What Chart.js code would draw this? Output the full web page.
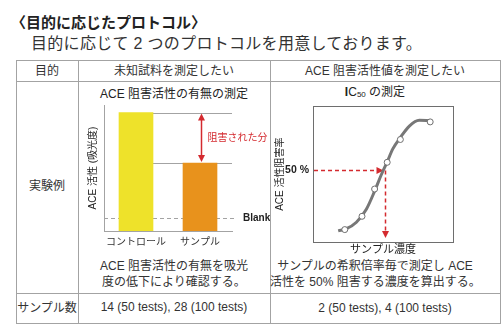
<!DOCTYPE html>
<html>
<head>
<meta charset="utf-8">
<script src="https://cdn.jsdelivr.net/npm/chart.js"></script>
<style>
  body { margin:0; width:501px; height:336px; background:#fff; position:relative; overflow:hidden;
    font-family: "Liberation Sans", "Noto Sans CJK JP", sans-serif; color:#333; }
  .t { position:absolute; white-space:nowrap; }
  .c { text-align:center; }
  .hl { position:absolute; height:1px; background:#a3a3a3; }
  .vl { position:absolute; width:1px; background:#a3a3a3; }
  canvas { position:absolute; }
  sub { font-size:8px; vertical-align:-1px; }
</style>
</head>
<body>
<div class="t" style="left:11px;top:13px;font-size:15px;line-height:20px;font-weight:bold;color:#222">〈目的に応じたプロトコル〉</div>
<div class="t" style="left:31px;top:34px;font-size:16px;line-height:20px;letter-spacing:0.3px;color:#333">目的に応じて 2 つのプロトコルを用意しております。</div>

<!-- table lines -->
<div class="hl" style="left:16px;top:60px;width:485px"></div>
<div class="hl" style="left:16px;top:81px;width:485px"></div>
<div class="hl" style="left:16px;top:293px;width:485px"></div>
<div class="hl" style="left:16px;top:323px;width:485px"></div>
<div class="vl" style="left:16px;top:60px;height:264px"></div>
<div class="vl" style="left:78px;top:60px;height:264px"></div>
<div class="vl" style="left:270px;top:60px;height:264px"></div>
<div class="vl" style="left:500px;top:60px;height:264px"></div>

<!-- table texts -->
<div class="t c" style="left:16px;width:62px;top:62px;font-size:12px;line-height:18px">目的</div>
<div class="t c" style="left:78px;width:192px;top:62px;font-size:12px;line-height:18px">未知試料を測定したい</div>
<div class="t c" style="left:270px;width:230px;top:62px;font-size:12px;line-height:18px">ACE 阻害活性値を測定したい</div>
<div class="t c" style="left:16px;width:62px;top:177px;font-size:12px;line-height:18px">実験例</div>
<div class="t c" style="left:78px;width:192px;top:86px;font-size:12px;line-height:16px;color:#222">ACE 阻害活性の有無の測定</div>
<div class="t c" style="left:270px;width:210px;top:84px;font-size:12px;line-height:16px;color:#222"><b>I</b>C<sub>50</sub> の測定</div>
<div class="t c" style="left:78px;width:192px;top:258px;font-size:12px;line-height:16px">ACE 阻害活性の有無を吸光<br>度の低下により確認する。</div>
<div class="t c" style="left:270px;width:210px;top:258px;font-size:12px;line-height:16px">サンプルの希釈倍率毎で測定し ACE<br>活性を 50% 阻害する濃度を算出する。</div>
<div class="t c" style="left:16px;width:62px;top:299px;font-size:12px;line-height:18px">サンプル数</div>
<div class="t c" style="left:78px;width:192px;top:298px;font-size:12px;line-height:18px">14 (50 tests), 28 (100 tests)</div>
<div class="t c" style="left:270px;width:230px;top:299px;font-size:12px;line-height:18px">2 (50 tests), 4 (100 tests)</div>

<canvas id="bars" width="190" height="150" style="left:80px;top:100px"></canvas>
<canvas id="ic50" width="186" height="161" style="left:272px;top:96px"></canvas>

<script>
const FONT = '"Liberation Sans", "Noto Sans CJK JP", sans-serif';

// left: absorbance
const barLabels = ['コントロール', 'サンプル'];
const absorbance = [94, 54];
const blankLevel = 10;

// right: inhibition curve
const concentration = [2.27, 3.5, 4.4, 5.3, 6.24, 8.37];
const inhibition = [8.6, 17.8, 36.7, 55.2, 71, 83.2];
const curveX = [1.8, 2.39, 3.1, 3.81, 4.4, 4.87, 5.3, 5.7, 6.24, 6.88, 7.59, 8.37];
const curveY = [7.7, 9.2, 13.7, 22.7, 35.2, 46.4, 55.5, 64.5, 72.4, 80.3, 84.3, 84];
const halfLevel = 50;
const ic50 = 5.05;

const RED = '#d42a2f';

function arrowHead(ctx, x, y, dir) {
  ctx.beginPath();
  if (dir === 'up') { ctx.moveTo(x, y); ctx.lineTo(x - 3.5, y + 7); ctx.lineTo(x + 3.5, y + 7); }
  if (dir === 'down') { ctx.moveTo(x, y); ctx.lineTo(x - 3.5, y - 7); ctx.lineTo(x + 3.5, y - 7); }
  if (dir === 'right') { ctx.moveTo(x, y); ctx.lineTo(x - 7, y - 3.5); ctx.lineTo(x - 7, y + 3.5); }
  ctx.closePath();
  ctx.fill();
}

const barMarks = {
  id: 'barMarks',
  beforeDatasetsDraw(chart) {
    const {ctx, chartArea: a, scales: {y}} = chart;
    const bars = chart.getDatasetMeta(0).data;
    const yc = Math.round(y.getPixelForValue(absorbance[0])) + 0.5;
    const ys = Math.round(y.getPixelForValue(absorbance[1])) + 0.5;
    const yb = Math.round(y.getPixelForValue(blankLevel)) + 0.5;
    const r0 = bars[0].x + bars[0].width / 2;
    ctx.save();
    ctx.strokeStyle = '#a3a3a3';
    ctx.lineWidth = 1;
    ctx.beginPath();
    ctx.moveTo(r0, yc); ctx.lineTo(a.right, yc);
    ctx.moveTo(r0, ys); ctx.lineTo(a.right, ys);
    ctx.stroke();
    ctx.setLineDash([4, 3]);
    ctx.beginPath();
    ctx.moveTo(a.left, yb); ctx.lineTo(a.right + 5, yb);
    ctx.stroke();
    ctx.restore();
  },
  afterDatasetsDraw(chart) {
    const {ctx, chartArea: a, scales: {y}} = chart;
    const bars = chart.getDatasetMeta(0).data;
    const yc = y.getPixelForValue(absorbance[0]);
    const ys = y.getPixelForValue(absorbance[1]);
    const yb = y.getPixelForValue(blankLevel);
    const ax = Math.round(bars[1].x) + 1.5;
    ctx.save();
    ctx.strokeStyle = RED;
    ctx.fillStyle = RED;
    ctx.lineWidth = 1.5;
    ctx.beginPath();
    ctx.moveTo(ax, yc + 5); ctx.lineTo(ax, ys - 5);
    ctx.stroke();
    arrowHead(ctx, ax, yc + 1, 'up');
    arrowHead(ctx, ax, ys - 1, 'down');
    ctx.font = '10px ' + FONT;
    ctx.textBaseline = 'middle';
    ctx.fillText('阻害された分', ax + 6, (yc + ys) / 2);
    ctx.fillStyle = '#222';
    ctx.font = 'bold 10px ' + FONT;
    ctx.fillText('Blank', a.right + 11, yb);
    ctx.restore();
  }
};

new Chart(document.getElementById('bars'), {
  type: 'bar',
  data: {
    labels: barLabels,
    datasets: [{
      data: absorbance,
      backgroundColor: ['#eee22a', '#e8921c'],
      barThickness: 34
    }]
  },
  options: {
    responsive: false,
    animation: false,
    events: [],
    layout: { padding: { top: 5, right: 38, bottom: 1, left: 0 } },
    plugins: { legend: { display: false }, tooltip: { enabled: false } },
    scales: {
      x: {
        grid: { display: false, drawTicks: false },
        border: { color: '#a3a3a3', width: 1 },
        ticks: { color: '#333', font: { size: 10, family: FONT }, padding: 5, maxRotation: 0, minRotation: 0, autoSkip: false },
        afterFit(s) { s.height = 18; }
      },
      y: {
        min: 0, max: 100,
        grid: { display: false, drawTicks: false },
        border: { color: '#a3a3a3', width: 1 },
        ticks: { display: false },
        title: { display: true, text: 'ACE 活性 (吸光度)', color: '#222', font: { size: 10, family: FONT }, padding: { top: 7, bottom: 0 } },
        afterFit(s) { s.width = 24; }
      }
    }
  },
  plugins: [barMarks]
});

const icMarks = {
  id: 'icMarks',
  beforeDatasetsDraw(chart) {
    const {ctx, chartArea: a, scales: {x, y}} = chart;
    const yh = Math.round(y.getPixelForValue(halfLevel)) + 0.5;
    const xh = Math.round(x.getPixelForValue(ic50)) + 0.5;
    ctx.save();
    ctx.strokeStyle = '#6e6e6e';
    ctx.lineWidth = 1;
    ctx.strokeRect(Math.round(a.left) + 0.5, Math.round(a.top) + 0.5, Math.round(a.right - a.left), Math.round(a.bottom - a.top));
    ctx.strokeStyle = RED;
    ctx.fillStyle = RED;
    ctx.lineWidth = 1.5;
    ctx.setLineDash([4, 3]);
    ctx.beginPath();
    ctx.moveTo(a.left + 1, yh); ctx.lineTo(xh - 6, yh);
    ctx.moveTo(xh + 1, yh); ctx.lineTo(xh + 1, a.bottom - 9);
    ctx.stroke();
    ctx.setLineDash([]);
    arrowHead(ctx, xh - 1, yh, 'right');
    arrowHead(ctx, xh + 1, a.bottom - 4, 'down');
    ctx.restore();
  }
};

new Chart(document.getElementById('ic50'), {
  type: 'scatter',
  data: {
    datasets: [{
      data: concentration.map((c, i) => ({ x: c, y: inhibition[i] })),
      showLine: false,
      pointRadius: 3,
      pointBackgroundColor: '#fff',
      pointBorderColor: '#6e6e6e',
      pointBorderWidth: 1
    }, {
      data: curveX.map((c, i) => ({ x: c, y: curveY[i] })),
      showLine: true,
      borderColor: '#777',
      borderWidth: 3,
      pointRadius: 0,
      cubicInterpolationMode: 'monotone'
    }]
  },
  options: {
    responsive: false,
    animation: false,
    events: [],
    layout: { padding: { top: 4, right: 4, bottom: 0, left: 0 } },
    plugins: { legend: { display: false }, tooltip: { enabled: false } },
    scales: {
      x: {
        type: 'linear', min: 0, max: 10,
        grid: { display: false, drawTicks: false },
        border: { display: false },
        ticks: { display: false },
        title: { display: true, text: 'サンプル濃度', color: '#222', font: { size: 11, family: FONT }, padding: 0 },
        afterFit(s) { s.height = 15; }
      },
      y: {
        min: 0, max: 94,
        grid: { display: false, drawTicks: false },
        border: { display: false },
        afterBuildTicks(s) { s.ticks = [{ value: halfLevel }]; },
        ticks: { callback: v => v + ' %', color: '#222', font: { size: 10.5, weight: 'bold', family: FONT }, padding: 4 },
        title: { display: true, text: 'ACE 活性阻害率', color: '#222', font: { size: 10, family: FONT }, padding: { top: 2, bottom: 0 } },
        afterFit(s) { s.width = 41; }
      }
    }
  },
  plugins: [icMarks]
});
</script>
</body>
</html>
